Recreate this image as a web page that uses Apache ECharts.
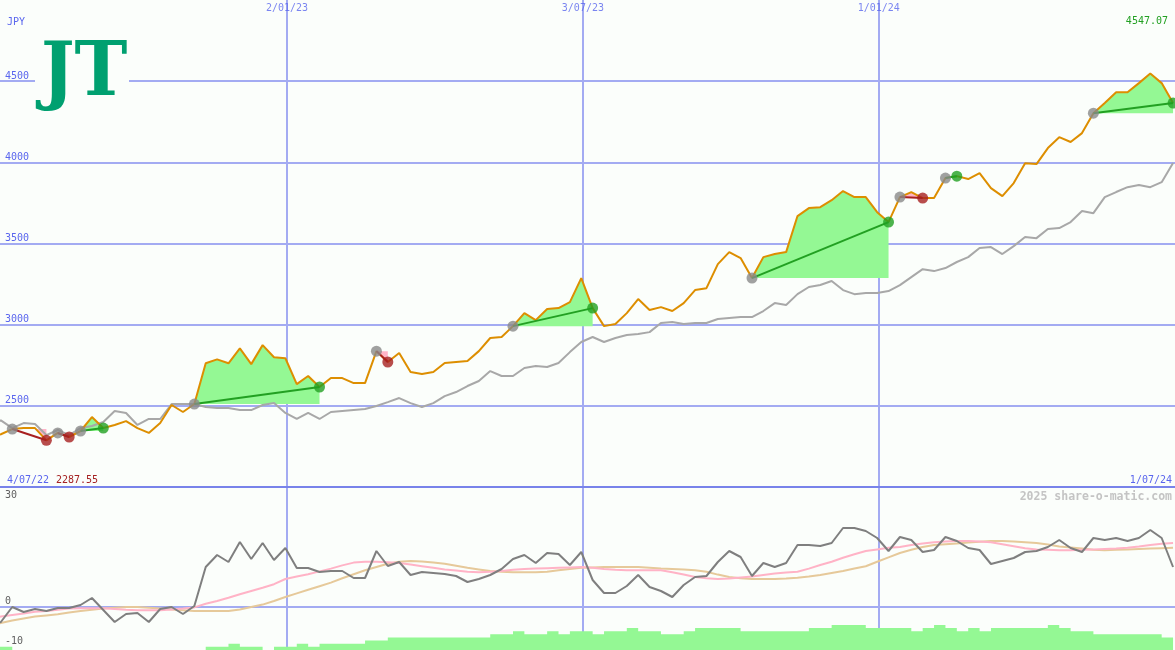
<!DOCTYPE html>
<html>
<head>
<meta charset="utf-8">
<script src="https://cdn.jsdelivr.net/npm/echarts@6/dist/echarts.min.js"></script>
<style>
html,body{margin:0;padding:0;background:#fbfefb;}
#c{width:1175px;height:650px;}
</style>
</head>
<body>
<div id="c"></div>
<script>
// ---- DATA (weekly) ----
const startDate = '2022-07-03';
const price = [2310, 2325, 2357, 2363, 2363, 2287.55, 2333, 2308, 2345, 2431,
  2363, 2382, 2406, 2363, 2333, 2394, 2505, 2462, 2511, 2762,
  2786, 2762, 2854, 2757, 2874, 2799, 2793, 2634, 2684, 2616,
  2671, 2671, 2640, 2640, 2837, 2770, 2825, 2708, 2696, 2708,
  2764, 2770, 2776, 2837, 2918, 2924, 2991, 3071, 3028, 3096,
  3102, 3139, 3287, 3102, 2991, 3004, 3071, 3158, 3090, 3108,
  3084, 3133, 3213, 3225, 3373, 3447, 3410, 3287, 3416, 3435,
  3447, 3669, 3718, 3724, 3767, 3823, 3786, 3786, 3693, 3632,
  3786, 3817, 3780, 3780, 3903, 3915, 3897, 3934, 3841, 3792,
  3872, 3995, 3989, 4088, 4155, 4125, 4180, 4303, 4365, 4432,
  4432, 4488, 4547.07, 4488, 4365];
const indexLine = [2395, 2410, 2363, 2394, 2388, 2320, 2351, 2320, 2363, 2376,
  2400, 2468, 2456, 2382, 2419, 2419, 2511, 2511, 2511, 2493,
  2486, 2486, 2474, 2474, 2505, 2517, 2456, 2419, 2456, 2419,
  2462, 2468, 2474, 2480, 2499, 2523, 2548, 2517, 2493, 2517,
  2560, 2585, 2622, 2653, 2714, 2684, 2684, 2733, 2745, 2739,
  2764, 2831, 2893, 2924, 2893, 2918, 2936, 2942, 2954, 3010,
  3016, 3004, 3010, 3010, 3035, 3041, 3047, 3047, 3084, 3133,
  3121, 3188, 3232, 3244, 3269, 3213, 3188, 3195, 3195, 3207,
  3244, 3293, 3342, 3330, 3349, 3386, 3416, 3472, 3478, 3435,
  3484, 3540, 3533, 3589, 3595, 3632, 3700, 3687, 3786, 3817,
  3847, 3860, 3847, 3878, 3996];
const momentum = [-4.5, -3.75, 0, -1.25, -0.5, -1, -0.25, -0.25, 0.5, 2.25,
  -0.75, -3.75, -1.75, -1.5, -3.75, -0.5, 0, -1.75, 0.25, 10,
  13, 11.25, 16.25, 12, 16, 11.75, 14.75, 9.75, 9.75, 8.75,
  9, 9, 7.25, 7.25, 14, 10.25, 11.25, 8, 8.75, 8.5,
  8.25, 7.75, 6.25, 7, 8, 9.5, 12, 13, 11, 13.5,
  13.25, 10.5, 13.75, 6.75, 3.5, 3.5, 5.25, 8, 5, 4,
  2.5, 5.5, 7.5, 7.75, 11.25, 14, 12.5, 7.75, 11, 10,
  11, 15.5, 15.5, 15.25, 16, 19.75, 19.75, 19, 17.25, 14,
  17.5, 16.75, 13.75, 14.25, 17.5, 16.5, 14.75, 14.25, 10.75, 11.5,
  12.25, 13.75, 14, 15, 16.75, 14.75, 13.75, 17.25, 16.75, 17.25,
  16.5, 17.25, 19.25, 17.25, 10];
const avgFast = [-2.8, -2.4, -2, -1.6, -1.2, -1, -0.7, -0.4, -0.3, -0.3,
  -0.3, -0.5, -0.7, -0.8, -0.8, -0.8, -0.6, -0.4, -0.1, 0.8,
  1.5, 2.3, 3.2, 4, 4.8, 5.7, 7, 7.6, 8.2, 8.9,
  9.6, 10.4, 11.1, 11.3, 11.3, 11.2, 11, 10.6, 10.2, 9.8,
  9.4, 9.1, 8.8, 8.7, 8.8, 9, 9.3, 9.5, 9.6, 9.7,
  9.8, 9.9, 10, 9.8, 9.5, 9.3, 9.2, 9.2, 9.2, 9.2,
  8.7, 8.1, 7.5, 7.2, 7, 7.1, 7.4, 7.6, 8, 8.4,
  8.6, 8.8, 9.6, 10.5, 11.3, 12.3, 13.2, 14, 14.4, 14.8,
  15, 15.5, 15.9, 16.2, 16.4, 16.5, 16.5, 16.4, 16.2, 15.7,
  15.2, 14.7, 14.4, 14.3, 14.2, 14.2, 14.3, 14.4, 14.5, 14.6,
  14.8, 15.1, 15.5, 15.8, 16];
const avgSlow = [-4.5, -4, -3.4, -2.9, -2.4, -2.1, -1.8, -1.4, -1, -0.7,
  -0.4, -0.2, 0, 0, -0.2, -0.4, -0.6, -0.8, -1, -1,
  -1, -1, -0.6, 0, 0.6, 1.5, 2.5, 3.4, 4.3, 5.2,
  6.1, 7.2, 8.2, 9.2, 10, 10.8, 11.3, 11.5, 11.4, 11.1,
  10.8, 10.3, 9.8, 9.4, 9, 8.8, 8.7, 8.7, 8.7, 8.8,
  9.2, 9.5, 9.8, 9.9, 10, 10, 10, 10, 9.8, 9.6,
  9.5, 9.4, 9.2, 8.8, 8.1, 7.5, 7.2, 7, 7, 7,
  7.1, 7.3, 7.6, 8, 8.5, 9, 9.6, 10.2, 11.3, 12.4,
  13.5, 14.3, 15, 15.5, 15.7, 15.9, 16.1, 16.3, 16.5, 16.5,
  16.4, 16.2, 16, 15.6, 15.1, 14.9, 14.6, 14.3, 14.2, 14.3,
  14.4, 14.5, 14.6, 14.7, 14.8];
const volume = [1, 1, 0, 0, 0, 0, 0, 0, 0, 0,
  0, 0, 0, 0, 0, 0, 0, 0, 0, 1,
  1, 2, 1, 1, 0, 1, 1, 2, 1, 2,
  2, 2, 2, 3, 3, 4, 4, 4, 4, 4,
  4, 4, 4, 4, 5, 5, 6, 5, 5, 6,
  5, 6, 6, 5, 6, 6, 7, 6, 6, 5,
  5, 6, 7, 7, 7, 7, 6, 6, 6, 6,
  6, 6, 7, 7, 8, 8, 8, 7, 7, 7,
  7, 6, 7, 8, 7, 6, 7, 6, 7, 7,
  7, 7, 7, 8, 7, 6, 6, 5, 5, 5,
  5, 5, 5, 4, 4];
// patterns: start week index, end week index, direction
const patStart = [2, 6, 8, 18, 34, 46, 67, 80, 84, 97];
const patEnd   = [5, 7, 10, 29, 35, 53, 79, 82, 85, 104];
const patDir   = ['down', 'down', 'up', 'up', 'down', 'up', 'up', 'down', 'up', 'up'];
// axis ticks
const priceTickStep = 500;
const xTickDates = ['2023-01-02', '2023-07-03', '2024-01-01'];
const xTickLabels = ['2/01/23', '3/07/23', '1/01/24'];
const lowTicks = [30, 0, -10];
const firstLabel = '4/07/22', lastLabel = '1/07/24';
const minLabel = '2287.55', maxLabel = '4547.07';

// ---- BUILD ----
const DAY = 86400000;
const t0 = Date.parse(startDate);
const times = price.map((_, k) => t0 + k * 7 * DAY);
const xMin = t0 + 6.46 * DAY, xMax = t0 + 729.2 * DAY;
const xTicks = xTickDates.map(d => Date.parse(d));

const bg = '#fbfefb';
const blue = '#5a66ee';
const gridC = '#a3abf2';
const sepC = '#7883ea';
const mono = 'DejaVu Sans Mono';
const upFill = '#94f894', downFill = '#ffb4c8';
const upC = '#22a022', downC = '#a82020', startC = '#8a8a8a';

const series = [];
// pattern fills
series.push({
  type: 'custom', xAxisIndex: 0, yAxisIndex: 0, z: 2, silent: true, clip: true,
  data: patStart.map((s, i) => [times[s], price[s], i]),
  encode: {x: 0, y: 1},
  renderItem: function (params, api) {
    const i = api.value(2);
    const s = patStart[i], e = patEnd[i];
    const base = price[s];
    const pts = [];
    for (let k = s; k <= e; k++) pts.push(api.coord([times[k], price[k]]));
    pts.push(api.coord([times[e], base]));
    pts.push(api.coord([times[s], base]));
    return {type: 'polygon', shape: {points: pts}, style: {fill: patDir[i] === 'up' ? upFill : downFill}};
  }
});
// comparison line (hosts vertical gridlines for top panel)
series.push({
  type: 'line', xAxisIndex: 0, yAxisIndex: 0, z: 3, symbol: 'none', silent: true,
  data: times.map((t, k) => [t, indexLine[k]]),
  lineStyle: {color: '#a8a8a8', width: 2},
  markLine: {
    silent: true, symbol: 'none', z: 0, animation: false,
    label: {show: false},
    lineStyle: {color: gridC, width: 2, type: 'solid'},
    data: xTicks.map(t => ({xAxis: t}))
  }
});
// price line
series.push({
  type: 'line', xAxisIndex: 0, yAxisIndex: 0, z: 4, symbol: 'none', silent: true,
  data: times.map((t, k) => [t, price[k]]),
  lineStyle: {color: '#dd8e00', width: 2}
});
// pattern lines
patStart.forEach((s, i) => {
  const e = patEnd[i];
  series.push({
    type: 'line', xAxisIndex: 0, yAxisIndex: 0, z: 5, symbol: 'none', silent: true,
    data: [[times[s], price[s]], [times[e], price[e]]],
    lineStyle: {color: patDir[i] === 'up' ? upC : downC, width: 2}
  });
});
// pattern dots
const dots = [];
patStart.forEach((s, i) => {
  const e = patEnd[i];
  dots.push({value: [times[s], price[s]], itemStyle: {color: startC}});
  dots.push({value: [times[e], price[e]], itemStyle: {color: patDir[i] === 'up' ? upC : downC}});
});
series.push({
  type: 'scatter', xAxisIndex: 0, yAxisIndex: 0, z: 6, symbolSize: 11, silent: true,
  data: dots
});
// top date labels
series.push({
  type: 'scatter', xAxisIndex: 0, yAxisIndex: 0, z: 6, symbolSize: 0, silent: true, clip: false,
  data: xTicks.map(t => [t, 5000]),
  label: {show: true, position: 'bottom', distance: 3, color: blue, fontSize: 10, fontFamily: mono,
    formatter: p => xTickLabels[p.dataIndex]}
});
// volume steps
series.push({
  type: 'line', xAxisIndex: 1, yAxisIndex: 2, z: 2, symbol: 'none', silent: true, step: 'end',
  data: times.map((t, k) => [t, volume[k]]),
  lineStyle: {width: 0, color: upFill},
  areaStyle: {color: upFill, opacity: 1}
});
series.push({
  type: 'line', xAxisIndex: 1, yAxisIndex: 1, z: 3, symbol: 'none', silent: true,
  data: times.map((t, k) => [t, avgSlow[k]]),
  lineStyle: {color: '#e6c99a', width: 2}
});
series.push({
  type: 'line', xAxisIndex: 1, yAxisIndex: 1, z: 3, symbol: 'none', silent: true,
  data: times.map((t, k) => [t, avgFast[k]]),
  lineStyle: {color: '#ffb3c6', width: 2}
});
const lowLabel = {show: true, color: '#606060', fontSize: 10, fontFamily: mono};
series.push({
  type: 'line', xAxisIndex: 1, yAxisIndex: 1, z: 4, symbol: 'none', silent: true,
  data: times.map((t, k) => [t, momentum[k]]),
  lineStyle: {color: '#7f7f7f', width: 2},
  markLine: {
    silent: true, symbol: 'none', z: 0, animation: false,
    data: [
      ...xTicks.map(t => ({xAxis: t, label: {show: false}, lineStyle: {color: gridC, width: 2, type: 'solid'}})),
      {yAxis: lowTicks[0], lineStyle: {color: sepC, width: 2, type: 'solid'},
        label: Object.assign({}, lowLabel, {position: 'insideStartBottom', distance: [5, 3], formatter: String(lowTicks[0])})},
      {yAxis: lowTicks[1], lineStyle: {color: gridC, width: 2, type: 'solid'},
        label: Object.assign({}, lowLabel, {position: 'insideStartTop', distance: [5, 1], formatter: String(lowTicks[1])})},
      {yAxis: lowTicks[2], lineStyle: {color: 'rgba(0,0,0,0)', width: 1, type: 'solid'},
        label: Object.assign({}, lowLabel, {position: 'insideStartTop', distance: [5, 1], formatter: String(lowTicks[2])})}
    ]
  }
});

const option = {
  backgroundColor: bg,
  animation: false,
  textStyle: {fontFamily: mono},
  grid: [
    {left: 0, right: 0, top: 0, height: 487},
    {left: 0, right: 0, top: 487, height: 163}
  ],
  xAxis: [
    {type: 'time', gridIndex: 0, min: xMin, max: xMax, show: false},
    {type: 'time', gridIndex: 1, min: xMin, max: xMax, show: false}
  ],
  yAxis: [
    {type: 'value', gridIndex: 0, min: 2000, max: 5000, interval: priceTickStep,
      axisLine: {show: false}, axisTick: {show: false},
      splitLine: {show: true, showMinLine: false, showMaxLine: false, lineStyle: {color: gridC, width: 2}},
      axisLabel: {inside: true, margin: 5, verticalAlign: 'bottom', showMinLabel: false, showMaxLabel: false,
        color: blue, fontSize: 10, fontFamily: mono, formatter: v => String(v)}},
    {type: 'value', gridIndex: 1, min: -10.75, max: 30, show: false},
    {type: 'value', gridIndex: 1, min: 0, max: 52, show: false}
  ],
  graphic: [
    {type: 'rect', x: 35, y: 33, shape: {width: 94, height: 85}, style: {fill: bg}, z: 50, silent: true},
    {type: 'text', x: 41, y: 76, scaleX: 0.96, z: 51, silent: true,
      style: {text: 'JT', fill: '#00a070', font: 'bold 74px "DejaVu Serif"', align: 'left', verticalAlign: 'middle'}},
    {type: 'text', x: 7, y: 22, z: 51, silent: true,
      style: {text: 'JPY', fill: blue, font: '10px "DejaVu Sans Mono"', align: 'left', verticalAlign: 'middle'}},
    {type: 'text', x: 1168, y: 21, z: 51, silent: true,
      style: {text: maxLabel, fill: '#22a022', font: '10px "DejaVu Sans Mono"', align: 'right', verticalAlign: 'middle'}},
    {type: 'text', x: 7, y: 480, z: 51, silent: true,
      style: {text: firstLabel, fill: blue, font: '10px "DejaVu Sans Mono"', align: 'left', verticalAlign: 'middle'}},
    {type: 'text', x: 56, y: 480, z: 51, silent: true,
      style: {text: minLabel, fill: '#a52222', font: '10px "DejaVu Sans Mono"', align: 'left', verticalAlign: 'middle'}},
    {type: 'text', x: 1172, y: 480, z: 51, silent: true,
      style: {text: lastLabel, fill: blue, font: '10px "DejaVu Sans Mono"', align: 'right', verticalAlign: 'middle'}},
    {type: 'text', x: 1172, y: 497, z: 51, silent: true,
      style: {text: '2025 share-o-matic.com', fill: '#c4c4c4', font: 'bold 11.5px "DejaVu Sans Mono"', align: 'right', verticalAlign: 'middle'}}
  ],
  series: series
};
const chart = echarts.init(document.getElementById('c'), null, {renderer: 'canvas'});
chart.setOption(option);
</script>
</body>
</html>
